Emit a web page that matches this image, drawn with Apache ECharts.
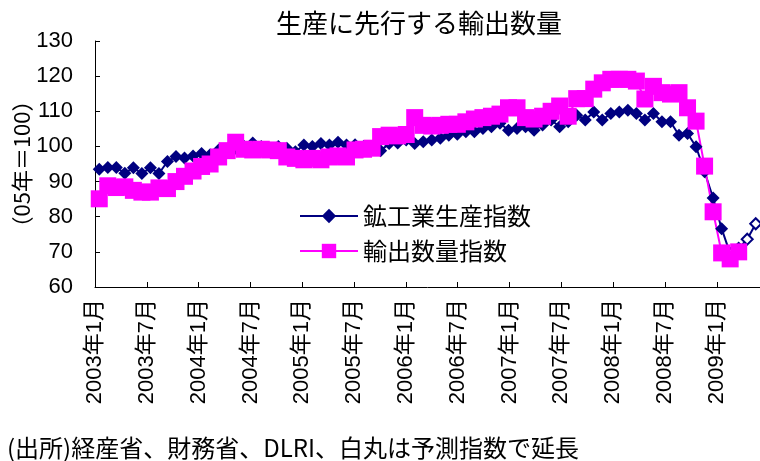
<!DOCTYPE html>
<html><head><meta charset="utf-8">
<script src="https://cdn.jsdelivr.net/npm/echarts@6/dist/echarts.min.js"></script>
<style>html,body{margin:0;padding:0;background:#fff}#c{width:760px;height:461px}</style>
</head><body><div id="c"></div>
<script>
const titleText = '生産に先行する輸出数量';
const sourceText = '(出所)経産省、財務省、DLRI、白丸は予測指数で延長';
const yAxisName = '（05年＝100）';
const seriesNames = ['鉱工業生産指数', '輸出数量指数'];
const startYear = 2003;
const monthCount = 78; // 2003年1月〜2009年6月
const labelStep = 6;   // a tick label every 6 months
const months = [];
for (let i = 0; i < monthCount; i++) {
  months.push((startYear + Math.floor(i / 12)) + '年' + (i % 12 + 1) + '月');
}
// 鉱工業生産指数 (actual), 2003年1月〜2009年3月
const production = [
  93.5, 94.0, 94.0, 92.4, 93.9, 92.3, 93.9, 92.3, 95.7, 97.1, 96.7, 97.3,
  98.0, 97.6, 99.0, 98.5, 99.5, 100.0, 101.0, 100.0, 99.5, 100.0, 99.5, 98.5,
  100.4, 100.0, 100.8, 100.4, 101.2, 100.4, 100.5, 100.0, 99.5, 98.8, 100.8, 101.0,
  101.8, 100.8, 101.3, 101.8, 102.3, 103.2, 103.5, 104.2, 104.2, 105.1, 105.6, 106.6,
  104.6, 105.1, 105.6, 104.6, 106.1, 107.5, 105.6, 107.0, 108.9, 107.5, 109.8, 107.5,
  109.4, 109.8, 110.3, 109.4, 107.5, 109.4, 107.0, 107.0, 103.2, 103.7, 99.9, 92.8,
  85.3, 76.6, 69.5
];
// forecast extension (hollow markers), 2009年3月〜2009年6月
const forecastStart = 74;
const productionForecast = [69.5, 71.0, 73.6, 78.0];
// 輸出数量指数, 2003年1月〜2009年4月
const exportVolume = [
  85.1, 88.8, 88.3, 88.5, 87.5, 87.0, 87.0, 88.2, 88.0, 90.0, 91.5, 93.0,
  94.3, 95.0, 97.0, 98.8, 101.2, 99.2, 99.0, 99.2, 99.0, 98.8, 97.0, 96.6,
  96.2, 96.6, 96.2, 97.0, 97.3, 97.0, 99.0, 99.2, 99.5, 102.8, 103.2, 103.0,
  103.4, 108.2, 106.0, 105.8, 106.0, 106.3, 106.3, 107.0, 107.8, 108.2, 108.6, 109.2,
  111.0, 111.0, 108.2, 107.8, 108.6, 110.0, 111.5, 108.6, 113.6, 113.6, 116.3, 118.1,
  119.1, 119.1, 119.1, 118.6, 113.5, 117.1, 115.3, 114.9, 115.3, 111.0, 107.2, 94.4,
  81.4, 69.7, 68.0, 70.0
];

const forecastData = months.map((_, i) =>
  (i >= forecastStart && i < forecastStart + productionForecast.length) ? productionForecast[i - forecastStart] : '-');

const NAVY = '#000080', PINK = '#FF00FF';
const latin = 'Liberation Sans, Noto Sans CJK JP';
const cjk = 'Noto Sans CJK JP';

const chart = echarts.init(document.getElementById('c'), null, {renderer: 'canvas'});
chart.setOption({
  animation: false,
  backgroundColor: '#fff',
  title: [
    {text: titleText, left: 271, top: 5, textStyle: {fontFamily: cjk, fontSize: 26, fontWeight: 'normal', color: '#000'}},
    {text: sourceText, left: 2, top: 431, textStyle: {fontFamily: cjk, fontSize: 24, fontWeight: 'normal', color: '#000'}}
  ],
  legend: {
    data: seriesNames,
    orient: 'vertical', left: 294, top: 199,
    itemWidth: 58, itemHeight: 18, itemGap: 11,
    textStyle: {fontFamily: cjk, fontSize: 24, color: '#000'}
  },
  grid: {left: 95, right: 0, top: 41, bottom: 174, containLabel: false, outerBoundsMode: 'none'},
  xAxis: [
    {type: 'category', data: months, boundaryGap: true, show: false},
    {type: 'value', min: 0, max: monthCount - 1, interval: labelStep, position: 'bottom',
      axisLine: {show: true, onZero: false, lineStyle: {color: '#000', width: 1}},
      axisTick: {show: true, inside: true, length: 5, lineStyle: {color: '#000'}},
      axisLabel: {rotate: 90, margin: 12, fontFamily: latin, fontSize: 22, color: '#000',
        showMaxLabel: false,
        formatter: v => (v % labelStep === 0 ? months[v] : '')},
      splitLine: {show: false}}
  ],
  yAxis: {
    type: 'value', min: 60, max: 130, interval: 10,
    name: yAxisName, nameLocation: 'middle', nameRotate: 90, nameGap: 62,
    nameMoveOverlap: false,
    nameTextStyle: {fontFamily: cjk, fontSize: 22, color: '#000'},
    axisLine: {show: true, lineStyle: {color: '#000', width: 1}},
    axisTick: {show: true, inside: true, length: 5, lineStyle: {color: '#000'}},
    axisLabel: {margin: 22, fontFamily: latin, fontSize: 22, color: '#000'},
    splitLine: {show: false}
  },
  series: [
    {name: seriesNames[0], type: 'line', xAxisIndex: 0, data: production,
      symbol: 'diamond', symbolSize: 13, showAllSymbol: true, color: NAVY,
      lineStyle: {color: NAVY, width: 2}, itemStyle: {color: NAVY}},
    {name: '予測', type: 'line', xAxisIndex: 0, data: forecastData,
      symbol: 'diamond', symbolSize: 11, showAllSymbol: true,
      lineStyle: {color: NAVY, width: 2},
      itemStyle: {color: '#fff', borderColor: NAVY, borderWidth: 2}},
    {name: seriesNames[1], type: 'line', xAxisIndex: 0, data: exportVolume,
      symbol: 'rect', symbolSize: 17, showAllSymbol: true, color: PINK,
      lineStyle: {color: PINK, width: 2}, itemStyle: {color: PINK}}
  ]
});
</script>
</body></html>
